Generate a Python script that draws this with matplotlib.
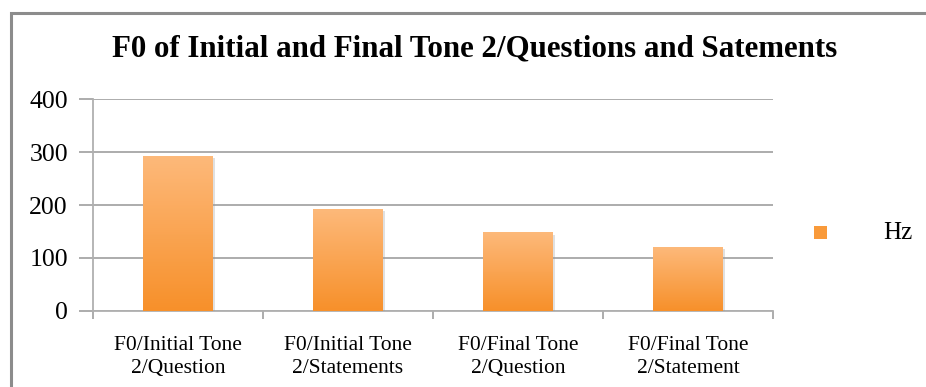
import matplotlib
matplotlib.use("Agg")
import matplotlib.pyplot as plt
import numpy as np
from matplotlib.patches import Rectangle
from matplotlib import patheffects as pe
from matplotlib.colors import LinearSegmentedColormap

categories = ["F0/Initial Tone\n2/Question", "F0/Initial Tone\n2/Statements",
              "F0/Final Tone\n2/Question", "F0/Final Tone\n2/Statement"]
values = [293, 192, 148, 120]
series_name = "Hz"
title = "F0 of Initial and Final Tone 2/Questions and Satements"
yticks = [0, 100, 200, 300, 400]

W, H = 926, 387
fig = plt.figure(figsize=(W / 100, H / 100), dpi=100)
fig.patch.set_facecolor("white")

# outer chart frame
fig.add_artist(Rectangle((11 / W, -0.1), 1.2, (H - 13) / H + 0.1, transform=fig.transFigure,
                         fill=False, edgecolor="#8c8c8c", linewidth=2.2))

ax = fig.add_axes([93 / W, 1 - 310.7 / H, (773 - 93) / W, (310.7 - 99.3) / H])
x = np.arange(len(categories))
bars = ax.bar(x, values, width=0.41, color="#f99a3a", zorder=3,
              path_effects=[pe.SimplePatchShadow(offset=(1.5, -1.5), shadow_rgbFace="#999999", alpha=0.3),
                            pe.Normal()])

# vertical gradient fill for each bar
grad = np.linspace(0, 1, 256).reshape(-1, 1)
cmap = LinearSegmentedColormap.from_list("og", ["#f7902a", "#fdb97a"])
for b in bars:
    x0, y0 = b.get_x(), b.get_y()
    w, h = b.get_width(), b.get_height()
    im = ax.imshow(grad, extent=[x0, x0 + w, y0, y0 + h], origin="lower", aspect="auto",
                   cmap=cmap, zorder=4)
    im.set_clip_path(b)

ax.set_xlim(-0.5, len(categories) - 0.5)
ax.set_ylim(0, 400)
ax.set_yticks(yticks)
ax.set_yticklabels([str(v) for v in yticks], fontsize=18.5, family="Liberation Serif")
ax.yaxis.grid(True, color="#a6a6a6", linewidth=1.3, zorder=0)
ax.set_axisbelow(True)
ax.tick_params(axis="y", length=10, color="#a6a6a6", width=1.3, pad=8)

ax.set_xticks(x)
ax.set_xticklabels(categories, fontsize=15.5, family="Liberation Serif", linespacing=1.3)
ax.tick_params(axis="x", which="major", length=0, pad=18)
ax.set_xticks(np.arange(-0.5, len(categories)), minor=True)
ax.tick_params(axis="x", which="minor", length=6, color="#a6a6a6", width=1.3)

for s in ["top", "right"]:
    ax.spines[s].set_visible(False)
for s in ["left", "bottom"]:
    ax.spines[s].set_color("#b0b0b0")
    ax.spines[s].set_linewidth(1.3)

fig.text(475 / W, 1 - 49 / H, title, ha="center", va="center", fontsize=22.2,
         fontweight="bold", family="Liberation Serif")

# legend
fig.add_artist(Rectangle(((820 - 6.5) / W, 1 - (233 + 6.5) / H), 13 / W, 13 / H,
                         transform=fig.transFigure, facecolor="#f99a3a", edgecolor="none"))
fig.text(883 / W, 1 - 233 / H, series_name, ha="left", va="center", fontsize=18,
         family="Liberation Serif")

fig.savefig("out.png", dpi=100)
